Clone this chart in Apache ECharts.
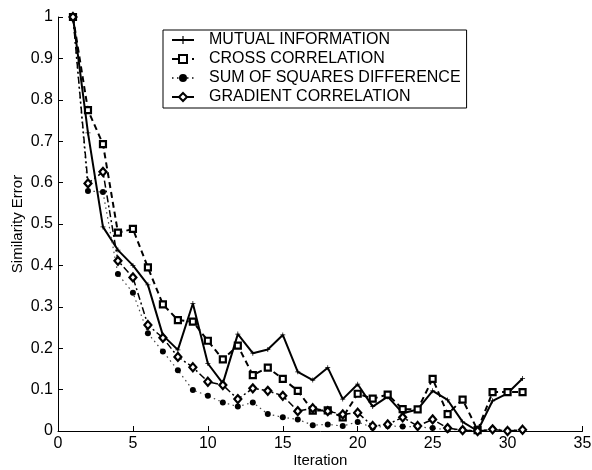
<!DOCTYPE html>
<html>
<head>
<meta charset="utf-8">
<script src="https://cdn.jsdelivr.net/npm/echarts@6/dist/echarts.min.js"></script>
<style>
  html, body { margin: 0; padding: 0; background: #fff; }
  #chart { width: 592px; height: 470px; }
</style>
</head>
<body>
<div id="chart"></div>
<script>
// Registration iterations
const iterations = [1, 2, 3, 4, 5, 6, 7, 8, 9, 10, 11, 12, 13, 14, 15, 16,
  17, 18, 19, 20, 21, 22, 23, 24, 25, 26, 27, 28, 29, 30, 31];

// Normalised similarity error per metric
const mutualInformation = [1.0, 0.72, 0.493, 0.437, 0.40, 0.353, 0.231, 0.196, 0.308, 0.163,
  0.115, 0.234, 0.188, 0.197, 0.232, 0.143, 0.123, 0.153, 0.077, 0.113,
  0.059, 0.083, 0.043, 0.052, 0.097, 0.075, 0.022, 0.0, 0.073, 0.091, 0.127];

const crossCorrelation = [1.0, 0.775, 0.693, 0.479, 0.488, 0.395, 0.306, 0.268, 0.264, 0.218,
  0.173, 0.206, 0.135, 0.153, 0.126, 0.097, 0.049, 0.05, 0.033, 0.09,
  0.078, 0.088, 0.053, 0.052, 0.126, 0.041, 0.076, 0.002, 0.094, 0.094, 0.094];

const sumOfSquaresDiff = [1.0, 0.58, 0.577, 0.379, 0.334, 0.236, 0.192, 0.147, 0.099, 0.085,
  0.069, 0.059, 0.069, 0.041, 0.033, 0.028, 0.014, 0.016, 0.012, 0.022,
  0.008, 0.012, 0.011, 0.01, 0.007, 0.003, 0.004, 0.0, 0.005, 0.002, 0.002];

const gradientCorrelation = [1.0, 0.598, 0.626, 0.411, 0.371, 0.256, 0.225, 0.179, 0.154, 0.119,
  0.111, 0.077, 0.103, 0.097, 0.085, 0.048, 0.055, 0.048, 0.04, 0.044,
  0.012, 0.016, 0.033, 0.012, 0.028, 0.007, 0.002, 0.0, 0.004, 0.0, 0.003];

const seriesNames = ['MUTUAL INFORMATION', 'CROSS CORRELATION',
  'SUM OF SQUARES DIFFERENCE', 'GRADIENT CORRELATION'];

const xTicks = [0, 5, 10, 15, 20, 25, 30, 35];
const yTicks = [0, 0.1, 0.2, 0.3, 0.4, 0.5, 0.6, 0.7, 0.8, 0.9, 1];

function pairs(values) {
  return iterations.map((it, i) => [it, values[i]]);
}

const FONT = '"Liberation Sans", Arial, sans-serif';
// thin "+" marker
const plusPath = 'path://M4.25,0h1.5v4.25h4.25v1.5h-4.25v4.25h-1.5v-4.25h-4.25v-1.5h4.25z';

const chart = echarts.init(document.getElementById('chart'), null, { renderer: 'canvas' });

chart.setOption({
  animation: false,
  backgroundColor: '#fff',
  grid: {
    left: 58, right: 9.5, top: 17, bottom: 39,
    containLabel: false,
    outerBoundsMode: 'none'
  },
  legend: {
    orient: 'vertical',
    left: 163,
    top: 30,
    data: seriesNames,
    backgroundColor: '#fff',
    borderColor: '#000',
    borderWidth: 1,
    borderRadius: 0,
    padding: [2, 6, 3, 8],
    itemWidth: 22,
    itemHeight: 10,
    itemGap: 3,
    selectedMode: false,
    textStyle: { fontFamily: FONT, fontSize: 16, color: '#000', padding: [0, 0, 0, 10] }
  },
  xAxis: {
    type: 'value',
    min: xTicks[0],
    max: xTicks[xTicks.length - 1],
    interval: 5,
    name: 'Iteration',
    nameLocation: 'middle',
    nameGap: 22.5,
    nameMoveOverlap: false,
    nameTextStyle: { fontFamily: FONT, fontSize: 15, color: '#000' },
    axisLine: { show: true, lineStyle: { color: '#000', width: 1 } },
    axisTick: { show: true, inside: true, length: 5, lineStyle: { color: '#000' } },
    axisLabel: { fontFamily: FONT, fontSize: 16, color: '#000', margin: 5 },
    splitLine: { show: false }
  },
  yAxis: {
    type: 'value',
    min: yTicks[0],
    max: yTicks[yTicks.length - 1],
    interval: 0.1,
    name: 'Similarity Error',
    nameLocation: 'middle',
    nameGap: 33,
    nameMoveOverlap: false,
    nameTextStyle: { fontFamily: FONT, fontSize: 15, color: '#000' },
    axisLine: { show: true, lineStyle: { color: '#000', width: 1 } },
    axisTick: { show: true, inside: true, length: 5, lineStyle: { color: '#000' } },
    axisLabel: {
      fontFamily: FONT, fontSize: 16, color: '#000', margin: 5,
      formatter: v => String(Math.round(v * 10) / 10)
    },
    splitLine: { show: false }
  },
  series: [
    {
      name: seriesNames[0],
      type: 'line',
      data: pairs(mutualInformation),
      showAllSymbol: true,
      symbol: plusPath,
      symbolSize: 5,
      itemStyle: { color: '#000' },
      lineStyle: { color: '#000', width: 2, type: 'solid' },
      z: 2
    },
    {
      name: seriesNames[1],
      type: 'line',
      data: pairs(crossCorrelation),
      showAllSymbol: true,
      symbol: 'rect',
      symbolSize: 6,
      itemStyle: { color: '#fff', borderColor: '#000', borderWidth: 2.2 },
      lineStyle: { color: '#000', width: 2, type: [6, 4] },
      z: 3
    },
    {
      name: seriesNames[2],
      type: 'line',
      data: pairs(sumOfSquaresDiff),
      showAllSymbol: true,
      symbol: 'circle',
      symbolSize: 6,
      itemStyle: { color: '#000', borderColor: '#000', borderWidth: 0 },
      lineStyle: { color: '#444', width: 1.2, type: [1.5, 3.5] },
      z: 4
    },
    {
      name: seriesNames[3],
      type: 'line',
      data: pairs(gradientCorrelation),
      showAllSymbol: true,
      symbol: 'diamond',
      symbolSize: [7, 8],
      itemStyle: { color: '#fff', borderColor: '#000', borderWidth: 2.2 },
      lineStyle: { color: '#000', width: 1.5, type: [7, 3, 2, 3] },
      z: 5
    }
  ]
});
</script>
</body>
</html>
